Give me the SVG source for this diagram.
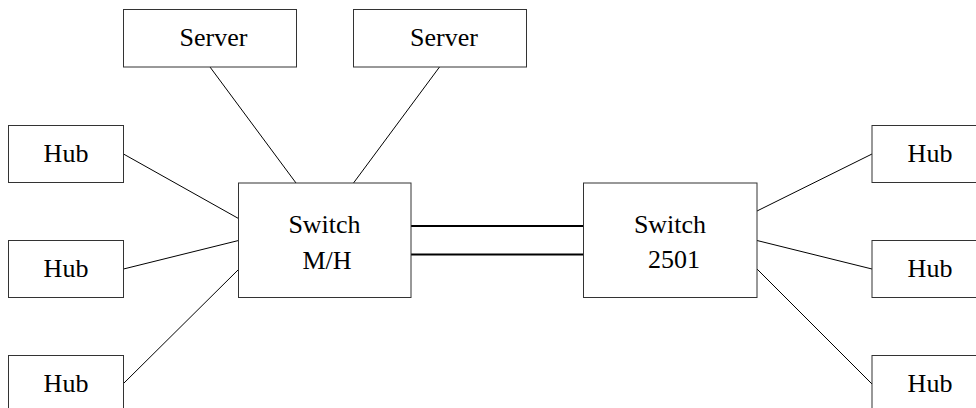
<svg xmlns="http://www.w3.org/2000/svg" width="976" height="408" viewBox="0 0 976 408">
<style>
.box{fill:#fff;stroke:#333;stroke-width:1}
.t{font-family:"Liberation Serif","Times New Roman",serif;font-size:26px;fill:#000;text-anchor:middle}
.c{stroke:#000;stroke-width:1;fill:none}
.d{stroke:#000;stroke-width:2.2;fill:none}
</style>
<rect width="976" height="408" fill="#fff"/>
<g id="connectors">
<line class="c" x1="210" y1="67" x2="296" y2="183"/>
<line class="c" x1="439.5" y1="67" x2="353.5" y2="183"/>
<line class="c" x1="123.5" y1="154" x2="238.5" y2="218.5"/>
<line class="c" x1="123.5" y1="269" x2="238.5" y2="240.5"/>
<line class="c" x1="123.5" y1="383.5" x2="238.5" y2="269.5"/>
<line class="c" x1="757" y1="211" x2="872" y2="154"/>
<line class="c" x1="757" y1="240.5" x2="872" y2="269"/>
<line class="c" x1="757" y1="269" x2="872" y2="384"/>
<line class="d" x1="411" y1="226" x2="583.5" y2="226"/>
<line class="d" x1="411" y1="254.5" x2="583.5" y2="254.5"/>
</g>
<g id="server1"><rect class="box" x="123.5" y="9.5" width="173" height="57.5"/><text class="t" x="213.5" y="46">Server</text></g>
<g id="server2"><rect class="box" x="353.5" y="9.5" width="173" height="57.5"/><text class="t" x="444" y="46">Server</text></g>
<g id="hubL1"><rect class="box" x="8.5" y="125.5" width="115" height="57"/><text class="t" x="66" y="161.5">Hub</text></g>
<g id="hubL2"><rect class="box" x="8.5" y="240.5" width="115" height="57"/><text class="t" x="66" y="276.5">Hub</text></g>
<g id="hubL3"><rect class="box" x="8.5" y="355.5" width="115" height="57"/><text class="t" x="66" y="391.5">Hub</text></g>
<g id="switchMH"><rect class="box" x="238.5" y="183" width="172.5" height="114.5"/><text class="t" x="324.5" y="233.3">Switch</text><text class="t" x="327" y="269.3">M/H</text></g>
<g id="switch2501"><rect class="box" x="583.5" y="183" width="173.5" height="114.5"/><text class="t" x="670" y="233.3">Switch</text><text class="t" x="674" y="268.3">2501</text></g>
<g id="hubR1"><rect class="box" x="872" y="125.5" width="115" height="57"/><text class="t" x="930" y="161.5">Hub</text></g>
<g id="hubR2"><rect class="box" x="872" y="240.5" width="115" height="57"/><text class="t" x="930" y="276.5">Hub</text></g>
<g id="hubR3"><rect class="box" x="872" y="355.5" width="115" height="57"/><text class="t" x="930" y="391.5">Hub</text></g>
</svg>
